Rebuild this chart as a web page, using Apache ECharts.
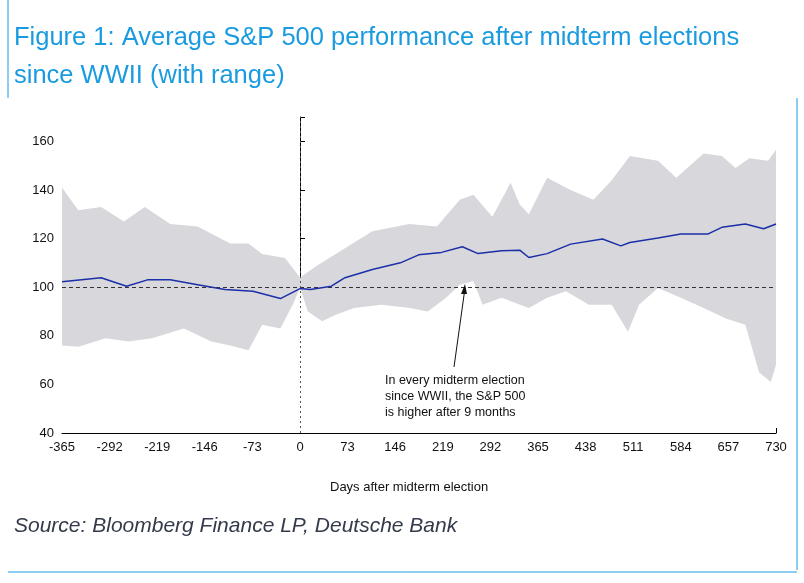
<!DOCTYPE html>
<html><head><meta charset="utf-8">
<script src="https://cdn.jsdelivr.net/npm/echarts@6/dist/echarts.min.js"></script>
<style>html,body{margin:0;padding:0;background:#fff}#c{width:804px;height:583px}</style>
</head><body><div id="c"></div>
<script>
const upperDays=[-365,-340,-305,-270,-238,-199,-157,-107,-79,-58,-23,0,27,69,111,168,210,245,266,295,323,337,351,379,415,450,478,506,549,577,619,647,668,689,718,730];
const upperVals=[141,131.6,133,127,133,126,125,118,118,113.6,112,104,109,116,123,126,125,136,138,129,143,134,130,145,140,136,144,154,152,145,155,154,149,153,152,156.5];
const lowerDays=[-365,-340,-298,-263,-227,-178,-136,-107,-79,-58,-30,-9,0,12,34,55,83,125,168,196,224,245,266,280,309,351,379,408,443,478,503,520,549,584,619,654,683,704,722,730];
const lowerVals=[76,75.5,79,77.6,79,83,77.6,76,74,84.5,83,94,100,90,86,88.6,91.4,92.8,91.4,90,95.6,101,102.5,92.8,95.6,91.4,95.6,98.3,92.8,92.8,81.7,92.8,99.7,95.6,91.4,87,84.5,65,61,68];
const avgDays=[-365,-305,-266,-234,-199,-157,-115,-72,-30,0,16,48,69,111,154,182,217,249,273,309,337,351,379,415,464,492,506,549,584,626,647,683,711,730];
const avgVals=[102.2,103.9,100.4,103,103,101,99,98.3,95.3,99.4,99,100.4,103.9,107.3,110,113.3,114.3,116.6,113.8,115,115.2,112.2,113.8,117.7,119.8,117,118.4,120.2,121.9,121.9,124.6,126,124,126];
const xTicks=[-365,-292,-219,-146,-73,0,73,146,219,292,365,438,511,584,657,730];
const zip=(a,b)=>a.map((d,i)=>[d,b[i]]);
const chart=echarts.init(document.getElementById('c'));
chart.setOption({
  animation:false,
  graphic:[
    {type:'text',left:14,top:19,style:{text:'Figure 1: Average S&P 500 performance after midterm elections\nsince WWII (with range)',fill:'#1a9be0',font:'25.5px "Liberation Sans", Arial',lineHeight:38}},
    {type:'line',shape:{x1:8,y1:0,x2:8,y2:98},style:{stroke:'#1a9be0',lineWidth:1}},
    {type:'line',shape:{x1:797,y1:98,x2:797,y2:570},style:{stroke:'#1a9be0',lineWidth:1}},
    {type:'line',shape:{x1:8,y1:572,x2:797,y2:572},style:{stroke:'#1a9be0',lineWidth:1}},
    {type:'text',left:14,top:516,style:{text:'Source: Bloomberg Finance LP, Deutsche Bank',fill:'#333a4a',font:'italic 21px "Liberation Sans", Arial'}},
    {type:'text',left:330,top:481,style:{text:'Days after midterm election',fill:'#111',font:'13px "Liberation Sans", Arial'}},
    {type:'text',left:385,top:373,z:10,style:{text:'In every midterm election\nsince WWII, the S&P 500\nis higher after 9 months',fill:'#111',font:'12.5px "Liberation Sans", Arial',lineHeight:16}},
    {type:'line',z:10,shape:{x1:454,y1:367,x2:465,y2:288},style:{stroke:'#111',lineWidth:1}},
    {type:'polygon',z:10,shape:{points:[[465,284],[461,294],[467,294]]},style:{fill:'#111'}}
  ],
  grid:{left:62,right:28,top:117,bottom:150},
  xAxis:{type:'value',min:-365,max:730,interval:73,
    axisLine:{lineStyle:{color:'#000'}},axisTick:{show:true,length:5,inside:true,lineStyle:{color:'#000'}},
    axisLabel:{color:'#111',fontSize:13,margin:8,fontFamily:'Liberation Sans'},splitLine:{show:false}},
  yAxis:{type:'value',min:40,max:170,interval:20,
    axisLine:{show:true,lineStyle:{color:'#000'}},axisTick:{show:true,length:5,inside:true,lineStyle:{color:'#000'}},
    axisLabel:{color:'#111',fontSize:13,fontFamily:'Liberation Sans',formatter:v=>v>160?'':v},splitLine:{show:false}},
  series:[
    {type:'line',data:zip(upperDays,upperVals),symbol:'none',lineStyle:{width:0},areaStyle:{color:'#d8d8dc',opacity:1,origin:'start'},z:1},
    {type:'line',data:zip(lowerDays,lowerVals),symbol:'none',lineStyle:{width:0},areaStyle:{color:'#ffffff',opacity:1,origin:'start'},z:2},
    {type:'line',data:zip(avgDays,avgVals),symbol:'none',lineStyle:{color:'#1b2fa8',width:1.5},z:5,
     markLine:{silent:true,symbol:'none',label:{show:false},
       data:[{yAxis:100,lineStyle:{type:[4,3],color:'#333',width:1}},{xAxis:0,lineStyle:{type:[2,3],color:'#555',width:1}}]}}
  ]
});
</script></body></html>
